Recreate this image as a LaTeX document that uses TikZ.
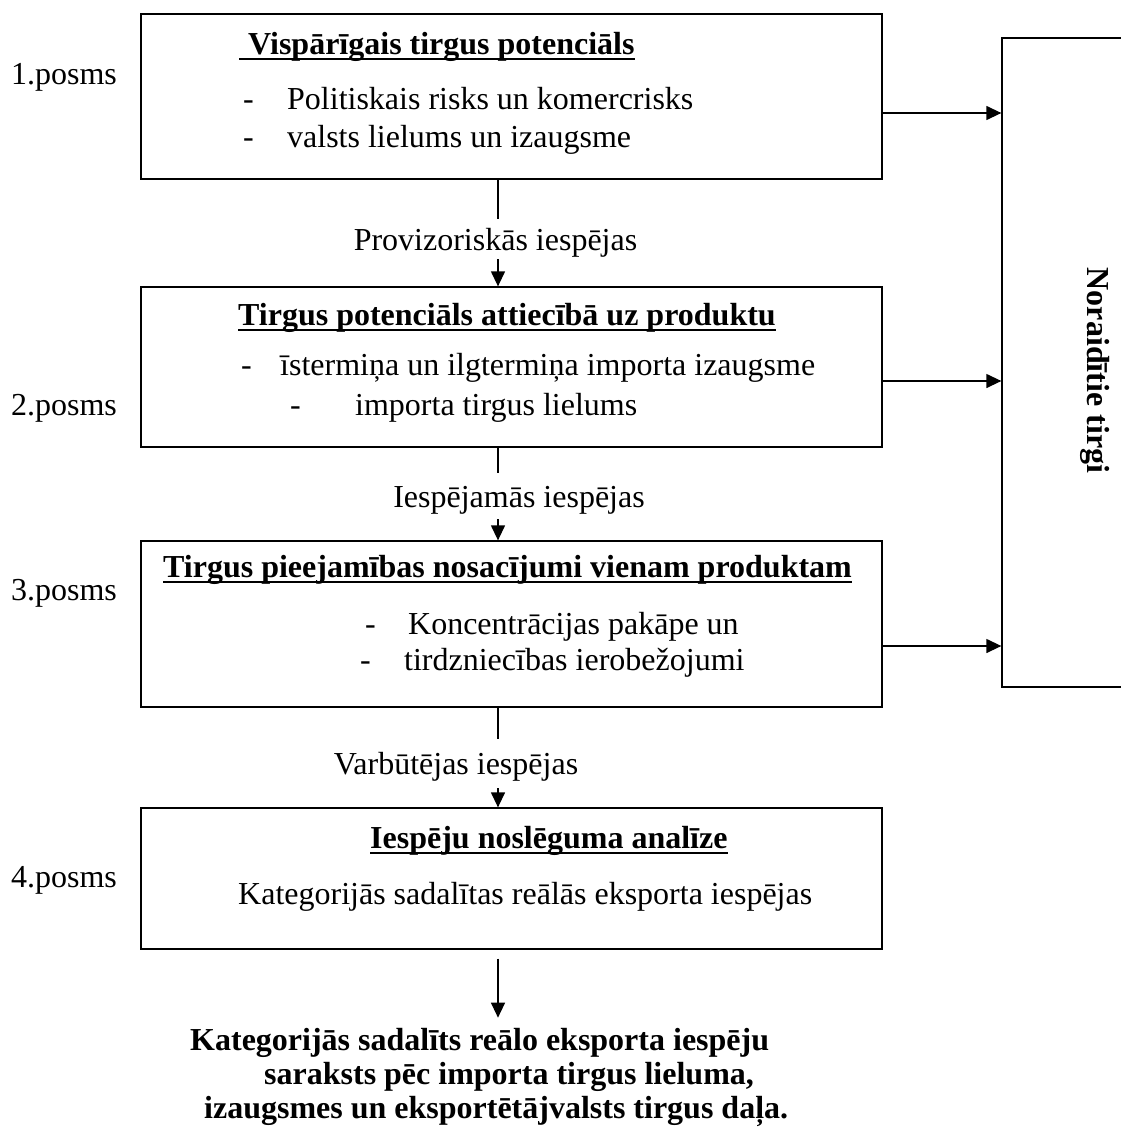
\documentclass[tikz,border=0pt]{standalone}
\usepackage{fontspec}
\setmainfont{Liberation Serif}
\usetikzlibrary{arrows.meta,calc,positioning}

\newcommand{\bul}[1]{\makebox[#1][l]{-}}
\newcommand{\hd}[1]{\bfseries\setbox0\hbox{#1}\rlap{\rule[-5.9pt]{\wd0}{2.4pt}}\box0}

\tikzset{
  every node/.style={font=\fontsize{32}{34}\selectfont},
  stagebox/.style={draw, line width=1.3pt, minimum width=741pt, inner sep=0pt},
  txt/.style={anchor=west, inner sep=0pt, text height=22pt, text depth=7pt},
  conn/.style={line width=1.3pt},
  arr/.style={line width=1.3pt, -{Triangle[length=15pt,width=14pt]}}
}

\begin{document}
\begin{tikzpicture}[x=1pt,y=-1pt]
      \useasboundingbox (0,0) rectangle (1120,1138);

      % Points
      \coordinate (ax) at (498,0);

      % Stage boxes and stage labels
      \foreach \n/\y/\h in {1/96.5/165, 2/367/160, 3/624/166, 4/878.5/141} {
        \node[stagebox, minimum height=\h pt] (s\n) at (511.5,\y) {};
      }
      \foreach \n/\y in {1/77, 2/408, 3/593, 4/880} {
        \node[txt, anchor=center] (p\n) at (64,\y) {\n.posms};
      }

      % Box for rejected markets
      \node[draw, line width=1.3pt, minimum width=186pt, minimum height=649pt] (rej) at (1095,362.5) {};
      \node[rotate=-90, font=\bfseries\fontsize{32}{34}\selectfont] (rejlbl) at ($(rej.center)+(0,8)$) {Noraidītie tirgi};

      % Texts of stage 1
      \node[txt] (t1) at (239,47) {\hd{\hspace*{9pt}Vispārīgais tirgus potenciāls}};
      \node[txt] (b11) at (243,102) {\bul{44pt}Politiskais risks un komercrisks};
      \node[txt] (b12) at (243,140) {\bul{44pt}valsts lielums un izaugsme};
      % Texts of stage 2
      \node[txt] (t2) at (238,318) {\hd{Tirgus potenciāls attiecībā uz produktu}};
      \node[txt] (b21) at (241,368) {\bul{39pt}īstermiņa un ilgtermiņa importa izaugsme};
      \node[txt] (b22) at (290,408) {\bul{65pt}importa tirgus lielums};
      % Texts of stage 3
      \node[txt] (t3) at (163,570) {\hd{Tirgus pieejamības nosacījumi vienam produktam}};
      \node[txt] (b31) at (365,627) {\bul{43pt}Koncentrācijas pakāpe un};
      \node[txt] (b32) at (360,663) {\bul{44pt}tirdzniecības ierobežojumi};
      % Texts of stage 4
      \node[txt] (t4) at (370,841) {\hd{Iespēju noslēguma analīze}};
      \node[txt] (b41) at (238,897) {Kategorijās sadalītas reālās eksporta iespējas};

      % Labels between the stages
      \node[txt, anchor=center] (l1) at (495.5,243) {Provizoriskās iespējas};
      \node[txt, anchor=center] (l2) at (519,500) {Iespējamās iespējas};
      \node[txt, anchor=center] (l3) at (456,767) {Varbūtējas iespējas};

      % Result list
      \node[anchor=west, align=left, inner sep=0pt, font=\bfseries\fontsize{32}{34}\selectfont] (res) at (190,1077)
        {Kategorijās sadalīts reālo eksporta iespēju\\
         \hspace*{74pt}saraksts pēc importa tirgus lieluma,\\
         \hspace*{14pt}izaugsmes un eksportētājvalsts tirgus daļa.};

      % Vertical connectors
      \draw[conn] (s1.south -| ax) -- ++(0,39);
      \draw[arr] ($(s2.north -| ax)+(0,-27)$) -- (s2.north -| ax);
      \draw[conn] (s2.south -| ax) -- ++(0,25);
      \draw[arr] ($(s3.north -| ax)+(0,-21)$) -- (s3.north -| ax);
      \draw[conn] (s3.south -| ax) -- ++(0,31);
      \draw[arr] ($(s4.north -| ax)+(0,-19)$) -- (s4.north -| ax);
      \draw[arr] ($(s4.south -| ax)+(0,9)$) -- ++(0,59);

      % Connectors to rejected markets
      \coordinate (o1) at ($(s1.east)+(0,16.5)$);
      \coordinate (o2) at ($(s2.east)+(0,14)$);
      \coordinate (o3) at ($(s3.east)+(0,22)$);
      \foreach \o in {o1,o2,o3} {
        \draw[arr] (\o) -- (\o -| rej.west);
      }
    \end{tikzpicture}
\end{document}
